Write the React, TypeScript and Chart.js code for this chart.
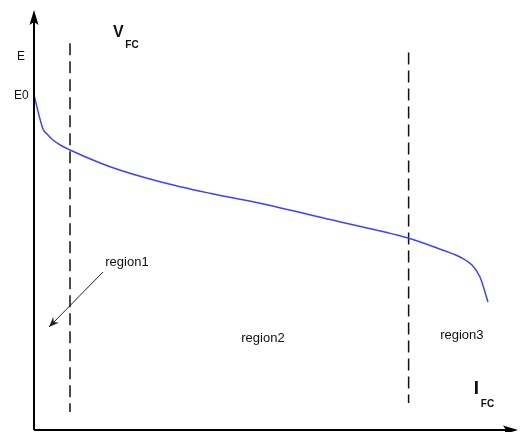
import React, { useEffect, useRef } from "react";
import { Chart, registerables } from "chart.js";

Chart.register(...registerables);

// Polarization curve (I_FC on x, V_FC on y), arbitrary units 0..100
const curveI = [0, 1.86, 2.69, 3.93, 5.58, 7.44, 15.7, 26.03, 36.36, 46.69, 61.16, 77.27, 83.26, 88.02, 90.5, 92.15, 93.8];
const curveV = [79.76, 71.67, 70.48, 69.05, 67.74, 66.67, 62.69, 59.12, 56.36, 53.98, 50.1, 45.71, 43.33, 41.19, 39.29, 36.43, 30.48];

// Region boundaries (dashed vertical lines)
const boundary1I = [7.44, 7.44];
const boundary1V = [92.1, 4.3];
const boundary2I = [77.4, 77.4];
const boundary2V = [89.9, 6.4];

// Pointer arrow for region1
const arrowI = [14.26, 3.1];
const arrowV = [37.62, 24.52];

// Text labels (in data units)
const labelTexts = ["E", "E0", "region1", "region2", "region3"];
const labelI = [-2.7, -2.6, 19.2, 47.3, 88.4];
const labelV = [88.8, 79.6, 40.0, 21.9, 22.6];

const pts = (xs: number[], ys: number[]) => xs.map((x, i) => ({ x, y: ys[i] }));

export default function App() {
  const ref = useRef<HTMLCanvasElement | null>(null);

  useEffect(() => {
    document.body.style.margin = "0";
    const canvas = ref.current;
    if (!canvas) return;

    const overlay = {
      id: "overlay",
      afterDraw(chart: any) {
        const ctx = chart.ctx as CanvasRenderingContext2D;
        const { left, right, top, bottom } = chart.chartArea;
        const xs = chart.scales.x;
        const ys = chart.scales.y;
        ctx.save();
        // axes
        ctx.strokeStyle = "#000";
        ctx.fillStyle = "#000";
        ctx.lineWidth = 2;
        ctx.beginPath();
        ctx.moveTo(left, bottom);
        ctx.lineTo(left, top + 8);
        ctx.moveTo(left, bottom);
        ctx.lineTo(right - 8, bottom);
        ctx.stroke();
        // y arrow head
        ctx.beginPath();
        ctx.moveTo(left, top);
        ctx.lineTo(left - 4.5, top + 15);
        ctx.lineTo(left, top + 12);
        ctx.lineTo(left + 4.5, top + 15);
        ctx.closePath();
        ctx.fill();
        // x arrow head
        ctx.beginPath();
        ctx.moveTo(right, bottom);
        ctx.lineTo(right - 15, bottom - 4.5);
        ctx.lineTo(right - 12, bottom);
        ctx.lineTo(right - 15, bottom + 4.5);
        ctx.closePath();
        ctx.fill();

        // region1 arrow head
        const x1 = xs.getPixelForValue(arrowI[0]);
        const y1 = ys.getPixelForValue(arrowV[0]);
        const x2 = xs.getPixelForValue(arrowI[1]);
        const y2 = ys.getPixelForValue(arrowV[1]);
        const ang = Math.atan2(y2 - y1, x2 - x1);
        const L = 10;
        const W = 4;
        ctx.fillStyle = "#222";
        ctx.beginPath();
        ctx.moveTo(x2, y2);
        ctx.lineTo(x2 - L * Math.cos(ang) + W * Math.sin(ang), y2 - L * Math.sin(ang) - W * Math.cos(ang));
        ctx.lineTo(x2 - 0.7 * L * Math.cos(ang), y2 - 0.7 * L * Math.sin(ang));
        ctx.lineTo(x2 - L * Math.cos(ang) - W * Math.sin(ang), y2 - L * Math.sin(ang) + W * Math.cos(ang));
        ctx.closePath();
        ctx.fill();

        // labels
        ctx.fillStyle = "#111";
        ctx.textAlign = "center";
        ctx.textBaseline = "middle";
        labelTexts.forEach((t, i) => {
          ctx.font = i < 2 ? "12px 'Liberation Sans', Arial, sans-serif" : "13px 'Liberation Sans', Arial, sans-serif";
          ctx.fillText(t, xs.getPixelForValue(labelI[i]), ys.getPixelForValue(labelV[i]));
        });

        // V_FC
        ctx.font = "bold 16px 'Liberation Sans', Arial, sans-serif";
        ctx.fillText("V", xs.getPixelForValue(17.4), ys.getPixelForValue(94.6));
        ctx.font = "bold 10px 'Liberation Sans', Arial, sans-serif";
        ctx.fillText("FC", xs.getPixelForValue(20.25), ys.getPixelForValue(91.5));
        // I_FC
        ctx.font = "bold 19px 'Liberation Sans', Arial, sans-serif";
        ctx.fillText("I", xs.getPixelForValue(91.4), ys.getPixelForValue(9.8));
        ctx.font = "bold 10px 'Liberation Sans', Arial, sans-serif";
        ctx.fillText("FC", xs.getPixelForValue(93.7), ys.getPixelForValue(6.2));
        ctx.restore();
      },
    };

    const chart = new Chart(canvas, {
      type: "scatter",
      data: {
        datasets: [
          {
            data: pts(curveI, curveV),
            showLine: true,
            borderColor: "rgb(64,64,255)",
            borderWidth: 1.5,
            pointRadius: 0,
            cubicInterpolationMode: "monotone",
          },
          {
            data: pts(boundary1I, boundary1V),
            showLine: true,
            borderColor: "#111",
            borderWidth: 1.5,
            borderDash: [12, 6],
            pointRadius: 0,
          },
          {
            data: pts(boundary2I, boundary2V),
            showLine: true,
            borderColor: "#111",
            borderWidth: 1.5,
            borderDash: [12, 6],
            pointRadius: 0,
          },
          {
            data: pts(arrowI, arrowV),
            showLine: true,
            borderColor: "#222",
            borderWidth: 1,
            pointRadius: 0,
          },
        ],
      },
      options: {
        animation: false,
        responsive: false,
        layout: { padding: { left: 34, right: 6, top: 10, bottom: 2 } },
        plugins: { legend: { display: false }, tooltip: { enabled: false } },
        scales: {
          x: { type: "linear", min: 0, max: 100, display: false },
          y: { type: "linear", min: 0, max: 100, display: false },
        },
      },
      plugins: [overlay],
    });
    return () => chart.destroy();
  }, []);

  return (
    <div style={{ width: 524, height: 432, background: "#fff" }}>
      <canvas ref={ref} width={524} height={432} style={{ display: "block" }} />
    </div>
  );
}
